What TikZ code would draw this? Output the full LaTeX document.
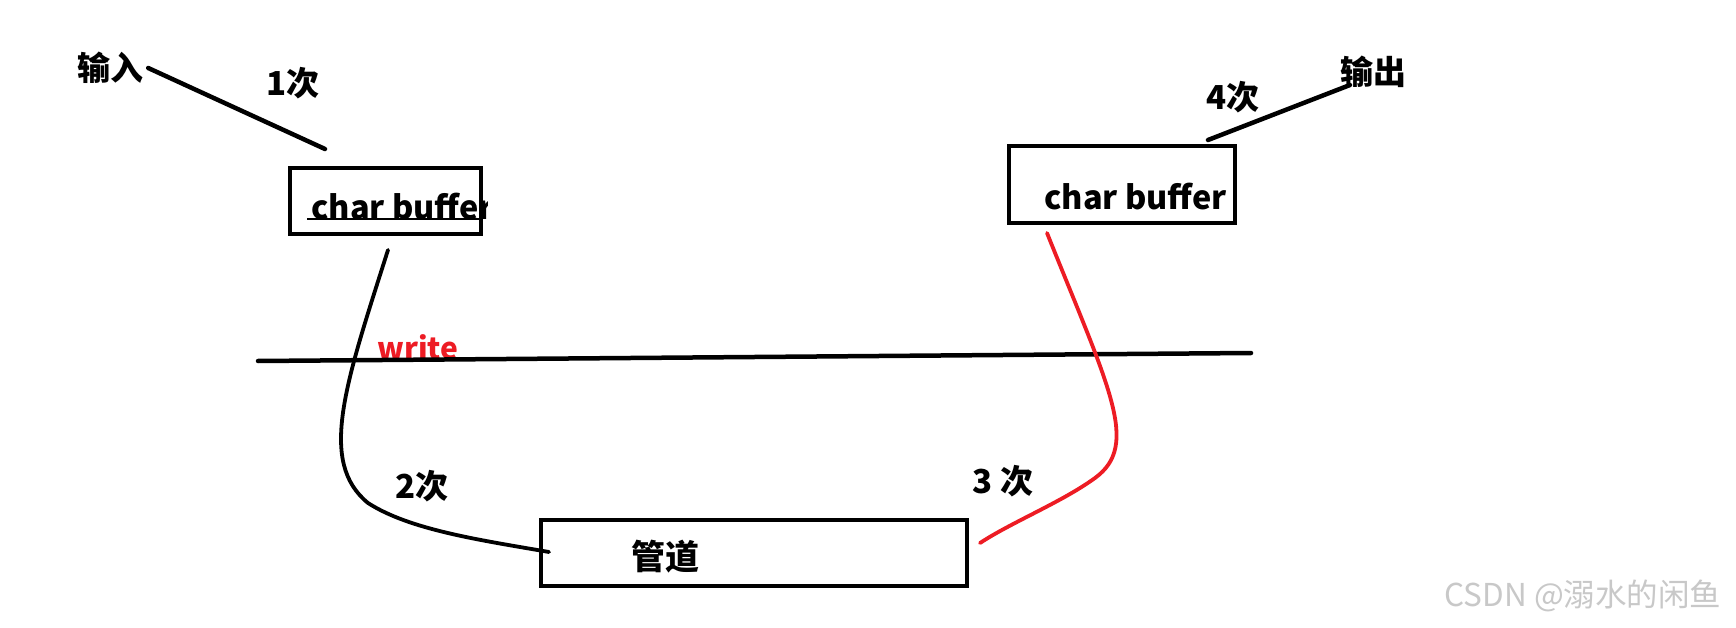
\documentclass[tikz,border=0pt]{standalone}
\usepackage{fontspec}
\newfontfamily\cjkfont{Noto Sans CJK SC}
\definecolor{paintred}{RGB}{237,28,36}
\definecolor{markgray}{RGB}{200,200,200}

\begin{document}
\begin{tikzpicture}[x=1pt, y=-1pt,
  every node/.style={font=\cjkfont\bfseries\fontsize{33}{39}\selectfont, inner sep=0pt},
  box/.style={draw, line width=4.5pt},
  wire/.style={line width=4.5pt, line cap=round},
  curve/.style={line width=3.8pt, line cap=round}]
  \useasboundingbox[fill=white] (0,0) rectangle (1736,628);

  % Labels
  \node (lin)   at (110,68)  {输入};
  \node (lone)  at (293,83)  {1次};
  \node (lfour) at (1233,97) {4次};
  \node (lout)  at (1373,72) {输出};
  \node (ltwo)  at (422,486) {2次};
  \node (lthree) at (1003,481) {3 次};
  \node[text=paintred, font=\cjkfont\bfseries\fontsize{30}{36}\selectfont] (lwrite) at (418,347) {write};

  % Buffers and pipe
  \begin{scope}
    \clip (0,0) rectangle (487,628);
    \node[anchor=base west, font=\cjkfont\bfseries\fontsize{32.5}{38}\selectfont] (txtin) at (311,220) {char buffer};
  \end{scope}
  \draw[line width=2.5pt] (307,219) -- (479,219);
  \node[box, minimum width=191pt, minimum height=66pt] (bufin) at (385.5,201) {};
  \node[box, minimum width=226pt, minimum height=77pt] (bufout) at (1122,184.5) {};
  \node[anchor=base west, font=\cjkfont\bfseries\fontsize{32.5}{38}\selectfont] (txtout) at (1044,210) {char buffer};
  \node[box, minimum width=426pt, minimum height=66pt] (pipe) at (754,553) {};
  \node[font=\cjkfont\bfseries\fontsize{34}{40}\selectfont] (txtpipe) at (665,557) {管道};

  % Input and output strokes
  \coordinate (inend) at (325,149);
  \coordinate (outA) at (1208,140);
  \coordinate (outB) at (1350,85);
  \draw[wire] ([xshift=5pt]lin.east) -- (inend);
  \draw[wire] (outA) -- (outB);

  % Boundary line
  \coordinate (sepL) at (258,361);
  \coordinate (sepR) at (1251,353);
  \draw[line width=4.5pt, line cap=round] (sepL) -- (sepR);

  % write path down to the pipe
  \coordinate (wA) at (388,250);
  \coordinate (wB) at (549,552);
  \draw[curve] (wA) .. controls (345,385) and (318,462) .. (368,503)
    .. controls (410,530) and (480,540) .. (wB);

  % read path up from the pipe
  \coordinate (rA) at (1047,233);
  \coordinate (rB) at (980,543);
  \draw[curve, paintred] (rA) .. controls (1110,390) and (1140,445) .. (1095,478)
    .. controls (1062,502) and (1012,522) .. (rB);

  % Watermark
  \node[text=markgray, font=\cjkfont\fontsize{31.5}{36}\selectfont] (mark) at (1583,596) {CSDN @溺水的闲鱼};
\end{tikzpicture}
\end{document}
